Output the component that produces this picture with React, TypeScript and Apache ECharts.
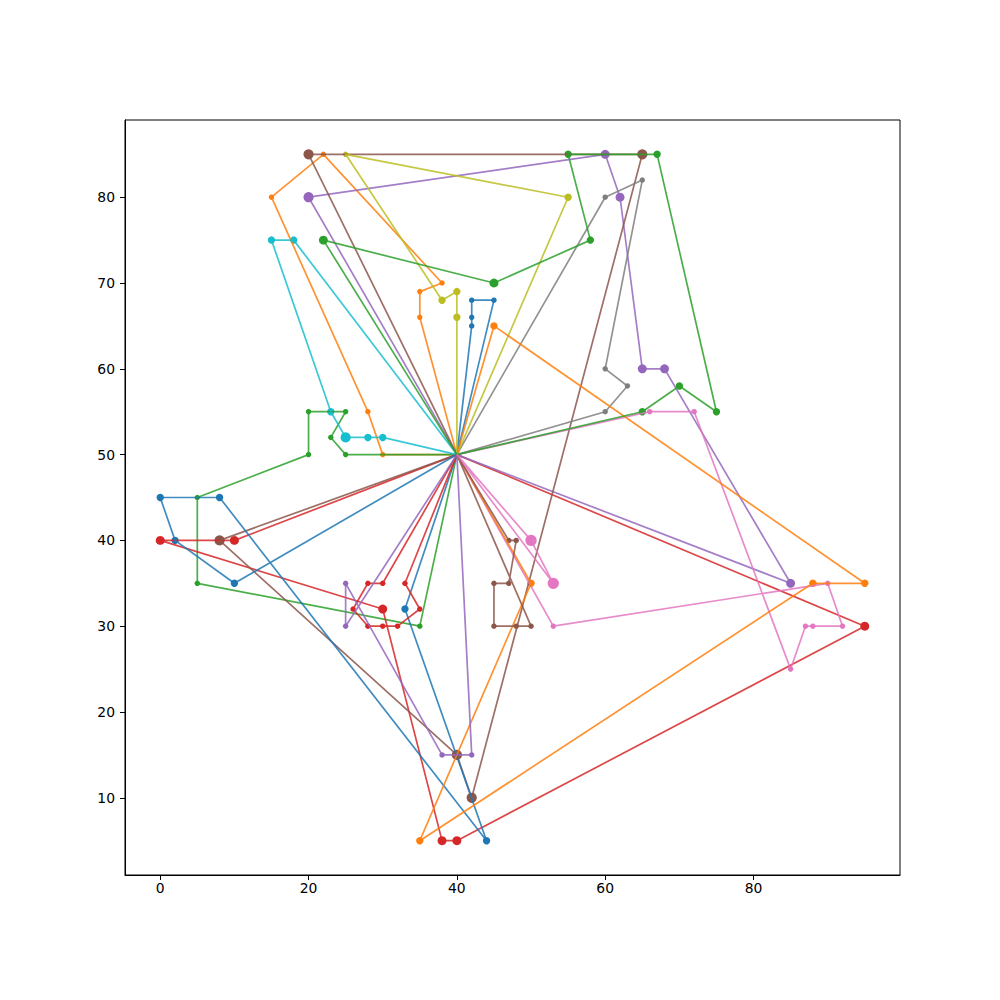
import React, { useEffect, useRef } from "react";
import * as echarts from "echarts";

// Depot and routes: each customer is [x, y, demand]
const DEPOT = [40, 50];

const route01 = [[42, 65, 10], [42, 66, 10], [42, 68, 10], [45, 68, 10]];
const route02 = [[35, 66, 10], [35, 69, 10], [38, 70, 10], [22, 85, 10], [15, 80, 10], [28, 55, 10], [30, 50, 10]];
const route03 = [[35, 30, 10], [5, 35, 10], [5, 45, 10], [20, 50, 10], [20, 55, 10], [25, 55, 10], [23, 52, 10], [25, 50, 10]];
const route04 = [[10, 40, 30], [0, 40, 30], [30, 32, 30], [38, 5, 30], [40, 5, 30], [95, 30, 30]];
const route05 = [[20, 80, 40], [60, 85, 30], [62, 80, 30], [65, 60, 30], [68, 60, 30], [85, 35, 30]];
const route06 = [[20, 85, 40], [65, 85, 40], [42, 10, 40], [40, 15, 40], [8, 40, 40]];
const route07 = [[66, 55, 10], [72, 55, 10], [85, 25, 10], [87, 30, 10], [88, 30, 10], [92, 30, 10], [90, 35, 10], [53, 30, 10]];
const route08 = [[60, 55, 10], [63, 58, 10], [60, 60, 10], [65, 82, 10], [60, 80, 10]];
const route09 = [[40, 66, 20], [40, 69, 20], [38, 68, 20], [25, 85, 10], [55, 80, 20]];
const route10 = [[30, 52, 20], [28, 52, 20], [25, 52, 40], [23, 55, 20], [15, 75, 20], [18, 75, 20]];
const route11 = [[10, 35, 20], [2, 40, 20], [0, 45, 20], [8, 45, 20], [44, 5, 20], [33, 32, 20]];
const route12 = [[45, 65, 20], [95, 35, 20], [88, 35, 20], [35, 5, 20], [50, 35, 20]];
const route13 = [[22, 75, 30], [45, 70, 30], [58, 75, 20], [55, 85, 20], [67, 85, 20], [75, 55, 20], [70, 58, 20], [65, 55, 20]];
const route14 = [[30, 35, 10], [28, 35, 10], [26, 32, 10], [28, 30, 10], [30, 30, 10], [32, 30, 10], [35, 32, 10], [33, 35, 10]];
const route15 = [[25, 30, 10], [25, 35, 10], [38, 15, 10], [42, 15, 10]];
const route16 = [[47, 40, 10], [48, 40, 10], [47, 35, 10], [45, 35, 10], [45, 30, 10], [48, 30, 10], [50, 30, 10]];
const route17 = [[50, 40, 50], [53, 35, 50]];

const ROUTES = [
  route01, route02, route03, route04, route05, route06, route07, route08, route09,
  route10, route11, route12, route13, route14, route15, route16, route17,
];

const PALETTE = [
  "#1f77b4", "#ff7f0e", "#2ca02c", "#d62728", "#9467bd",
  "#8c564b", "#e377c2", "#7f7f7f", "#bcbd22", "#17becf",
];

const X_TICKS = [0, 20, 40, 60, 80];
const Y_TICKS = [10, 20, 30, 40, 50, 60, 70, 80];

export default function App() {
  const ref = useRef<HTMLDivElement>(null);

  useEffect(() => {
    const chart = echarts.init(ref.current as HTMLDivElement, null, { renderer: "svg" });
    const series: any[] = [];
    ROUTES.forEach((r, i) => {
      const color = PALETTE[i % PALETTE.length];
      const path = [DEPOT, ...r.map((p) => [p[0], p[1]]), DEPOT];
      series.push({
        type: "line",
        data: path,
        symbol: "none",
        showSymbol: false,
        silent: true,
        lineStyle: { color, width: 1.7, opacity: 0.85 },
      });
      series.push({
        type: "scatter",
        data: r,
        silent: true,
        symbol: "circle",
        symbolSize: (v: number[]) => 1.5 * Math.sqrt(v[2]) + 0.7,
        itemStyle: { color, opacity: 1 },
      });
    });

    const labelStyle = { color: "#000", fontFamily: "DejaVu Sans", fontSize: 13.9 };

    chart.setOption({
      animation: false,
      backgroundColor: "#fff",
      grid: {
        left: 125,
        right: 100,
        top: 120,
        bottom: 125,
        show: true,
        borderColor: "#000",
        borderWidth: 1,
        containLabel: false,
      },
      xAxis: {
        type: "value",
        min: -4.75,
        max: 99.75,
        axisLine: { show: true, onZero: false, lineStyle: { color: "#000", width: 1 } },
        axisTick: { show: true, length: 5, customValues: X_TICKS, lineStyle: { color: "#000", width: 1 } },
        axisLabel: { ...labelStyle, margin: 6, customValues: X_TICKS },
        splitLine: { show: false },
      },
      yAxis: {
        type: "value",
        min: 1,
        max: 89,
        axisLine: { show: true, onZero: false, lineStyle: { color: "#000", width: 1 } },
        axisTick: { show: true, length: 5, customValues: Y_TICKS, lineStyle: { color: "#000", width: 1 } },
        axisLabel: { ...labelStyle, margin: 10, customValues: Y_TICKS },
        splitLine: { show: false },
      },
      series,
    });

    return () => chart.dispose();
  }, []);

  return (
    <div
      ref={ref}
      style={{ position: "fixed", left: 0, top: 0, width: 1000, height: 1000, background: "#fff" }}
    />
  );
}
